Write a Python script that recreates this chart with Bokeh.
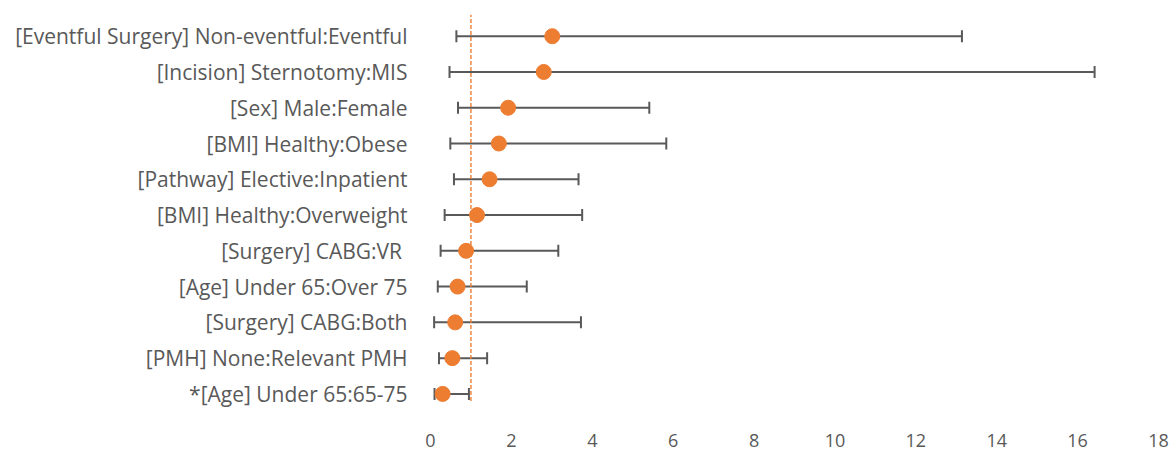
from bokeh.plotting import figure
from bokeh.models import ColumnDataSource, FixedTicker, Range1d, Whisker
from bokeh.embed import file_html
from bokeh.resources import INLINE

# Odds ratios with 95% confidence intervals, top row first
categories = [
    "[Eventful Surgery] Non-eventful:Eventful",
    "[Incision] Sternotomy:MIS",
    "[Sex] Male:Female",
    "[BMI] Healthy:Obese",
    "[Pathway] Elective:Inpatient",
    "[BMI] Healthy:Overweight",
    "[Surgery]  CABG:VR",
    "[Age] Under 65:Over 75",
    "[Surgery] CABG:Both",
    "[PMH] None:Relevant PMH",
    "*[Age] Under 65:65-75",
]
odds_ratio = [3.01, 2.80, 1.92, 1.69, 1.46, 1.15, 0.88, 0.67, 0.61, 0.54, 0.30]
ci_lower = [0.64, 0.47, 0.68, 0.49, 0.58, 0.35, 0.25, 0.18, 0.09, 0.21, 0.10]
ci_upper = [13.14, 16.42, 5.41, 5.83, 3.66, 3.75, 3.16, 2.38, 3.72, 1.40, 0.95]
x_ticks = [0, 2, 4, 6, 8, 10, 12, 14, 16, 18]

# reference line at OR = 1
ref_x = [1, 1]
ref_y = [0.8, 11.6]

n = len(categories)
rows = list(range(n, 0, -1))

source = ColumnDataSource(dict(
    row=rows, odds=odds_ratio, lower=ci_lower, upper=ci_upper,
))

TEXT = "#595959"
FONT = "Open Sans"

p = figure(
    width=1170, height=452,
    x_range=Range1d(0, 18), y_range=Range1d(0.424, 11.607),
    output_backend="svg", toolbar_location=None,
    min_border_left=430, min_border_right=12,
    min_border_top=14, min_border_bottom=38,
)
p.outline_line_color = None
p.grid.grid_line_color = None
p.background_fill_color = "white"
p.border_fill_color = "white"

# dashed line of no effect
p.line(ref_x, ref_y, line_color="#ED7D31", line_width=1.4, line_dash="4 2")

# confidence interval bars with end caps
whisker = Whisker(
    source=source, base="row", lower="lower", upper="upper", dimension="width",
    line_color="#595959", line_width=2,
)
whisker.upper_head.size = 12
whisker.lower_head.size = 12
whisker.upper_head.line_color = "#595959"
whisker.lower_head.line_color = "#595959"
whisker.upper_head.line_width = 2
whisker.lower_head.line_width = 2
p.add_layout(whisker)

# point estimates
p.scatter("odds", "row", source=source, size=15, fill_color="#ED7D31",
          line_color="#ED7D31")

# x axis
p.xaxis.ticker = FixedTicker(ticks=x_ticks)
p.xaxis.axis_line_color = None
p.xaxis.major_tick_line_color = None
p.xaxis.minor_tick_line_color = None
p.xaxis.major_label_standoff = 13
p.xaxis.major_label_text_font = FONT
p.xaxis.major_label_text_font_size = "18px"
p.xaxis.major_label_text_color = TEXT

# y axis with category labels
p.yaxis.ticker = FixedTicker(ticks=rows)
p.yaxis.major_label_overrides = {r: c for r, c in zip(rows, categories)}
p.yaxis.axis_line_color = None
p.yaxis.major_tick_line_color = None
p.yaxis.minor_tick_line_color = None
p.yaxis.major_label_standoff = 17
p.yaxis.major_label_text_font = FONT
p.yaxis.major_label_text_font_size = "21px"
p.yaxis.major_label_text_color = TEXT

open("out.html", "w").write(file_html(p, INLINE))
